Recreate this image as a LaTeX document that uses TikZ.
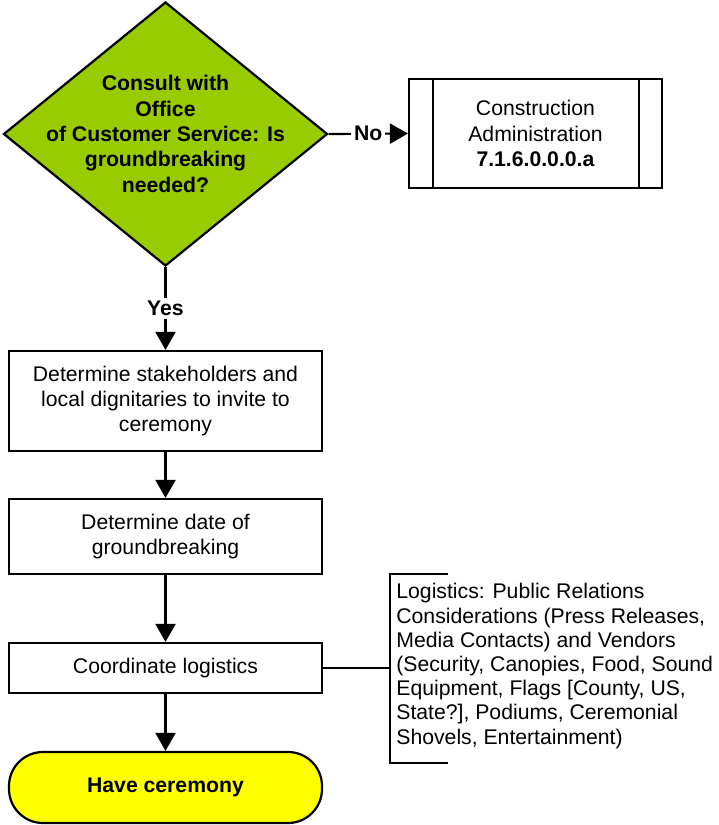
\documentclass[tikz,border=0pt]{standalone}
\usepackage{fontspec}
\setmainfont{Liberation Sans}
\usetikzlibrary{positioning,arrows.meta,shapes.geometric}
\definecolor{leaf}{HTML}{99CC00}
\definecolor{lemon}{HTML}{FFFF00}
\tikzset{
  flow/.style={draw=black, line width=1.1pt},
  decision/.style={flow, diamond, fill=leaf, minimum width=162pt, minimum height=132pt, inner sep=0pt},
  process/.style={flow, rectangle, fill=white, minimum width=156.5pt, align=center, inner sep=0pt},
  subproc/.style={process, minimum width=126.5pt, minimum height=54.5pt},
  terminal/.style={process, fill=lemon, rounded corners=17pt, minimum height=35.5pt, font=\bfseries},
  arr/.style={line width=1.1pt, -{Triangle[length=9pt,width=10pt]}},
  answer/.style={fill=white, font=\bfseries, inner sep=1.5pt},
  note/.style={align=left, inner sep=0pt, font=\fontsize{10.6}{12.1}\selectfont}
}

\begin{document}
\begin{tikzpicture}[x=0.5pt, y=-0.5pt]
    \fontsize{10.6}{12.7}\selectfont
    \useasboundingbox (0,0) rectangle (718,825);

    % Decision
    \node[decision] (ask) at (165.5,134) {};
    \node[align=center, font=\bfseries, inner sep=0pt] (asktext) at (ask) {Consult with\\Office\\of Customer Service: Is\\groundbreaking\\needed?};

    % Sub-process
    \node[subproc] (admin) at (535.5,133.5) {Construction\\Administration\\\textbf{7.1.6.0.0.0.a}};
    \draw[flow] ([xshift=12.5pt]admin.north west) -- ([xshift=12.5pt]admin.south west);
    \draw[flow] ([xshift=-12pt]admin.north east) -- ([xshift=-12pt]admin.south east);

    % Steps
    \node[process, minimum height=50pt] (invite) at (165.5,401) {Determine stakeholders and\\local dignitaries to invite to\\ceremony};
    \node[process, minimum height=37.5pt] (date) at (165.5,536.5) {Determine date of\\groundbreaking};
    \node[process, minimum height=25pt] (logi) at (165.5,668) {Coordinate logistics};
    \node[terminal] (cer) at (165.5,787.5) {Have ceremony};

    % Connectors
    \draw[arr] (ask.east) -- node[answer] {No} (admin.west);
    \draw[arr] (ask.south) -- node[answer] {Yes} (invite.north);
    \draw[arr] (invite) -- (date);
    \draw[arr] (date) -- (logi);
    \draw[arr] (logi) -- (cer);

    % Annotation
    \coordinate (brace) at (390,668);
    \coordinate (note top) at (448,574);
    \coordinate (note bottom) at (448,763);
    \draw[flow, line width=1.2pt] (note top) -- (brace |- note top) -- (brace |- note bottom) -- (note bottom);
    \draw[flow, line width=1.2pt] (logi.east) -- (brace);
    \node[note, anchor=west] (notes) at (396,666) {Logistics: Public Relations\\Considerations (Press Releases,\\Media Contacts) and Vendors\\(Security, Canopies, Food, Sound\\Equipment, Flags [County, US,\\State?], Podiums, Ceremonial\\Shovels, Entertainment)};
\end{tikzpicture}
\end{document}
